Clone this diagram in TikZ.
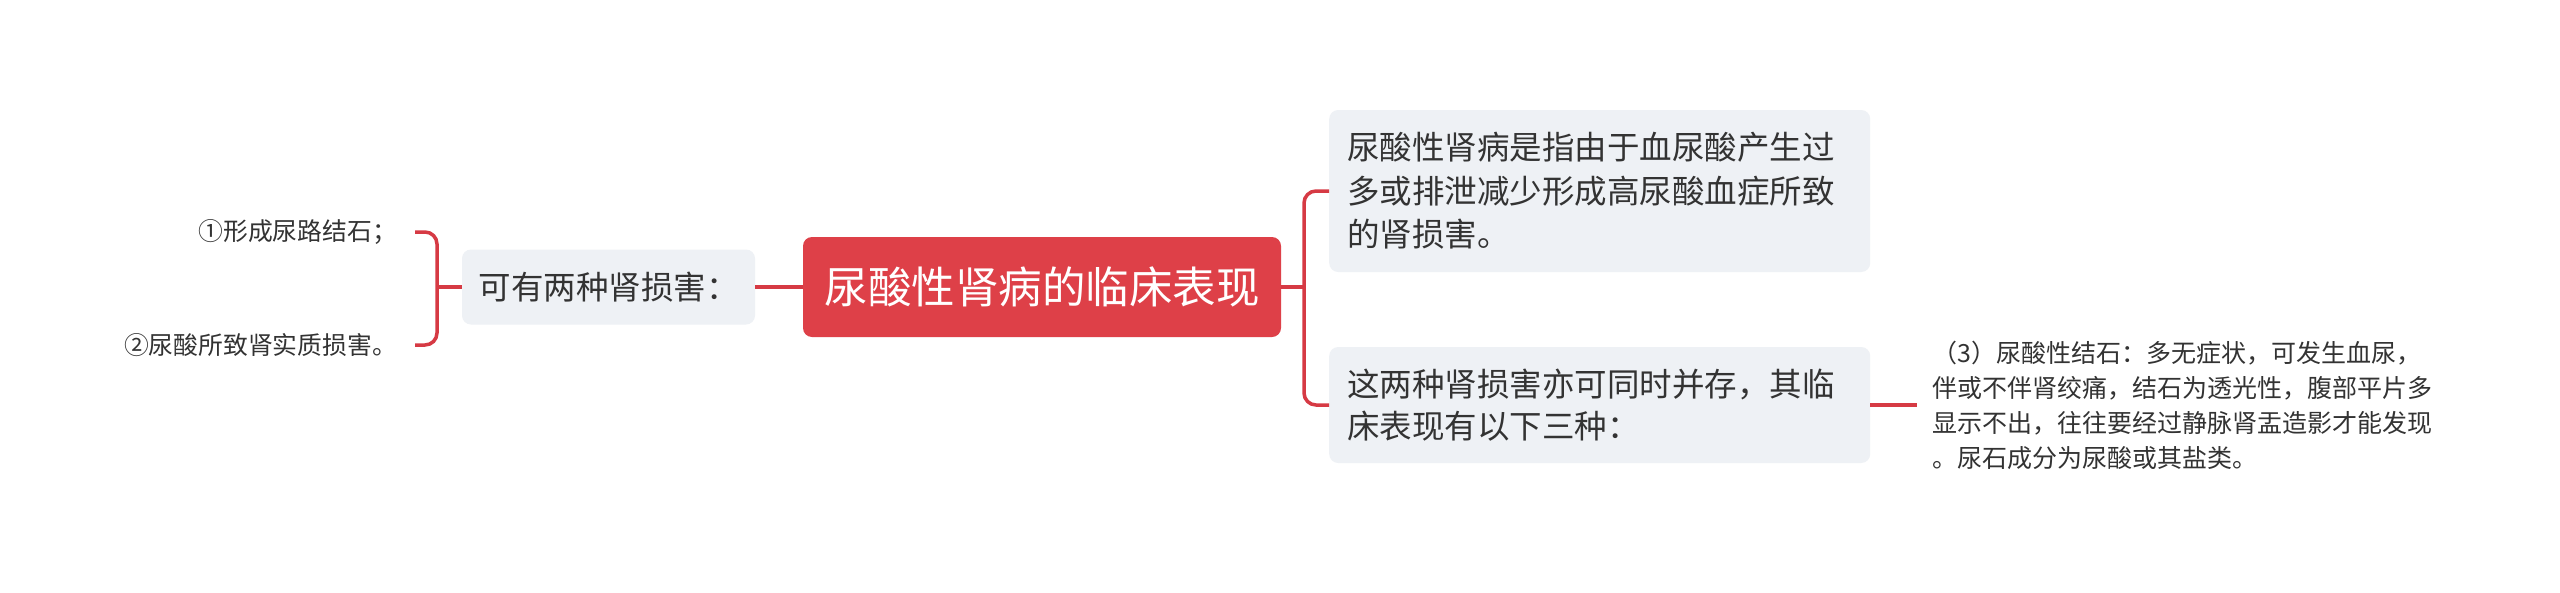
\documentclass[tikz,border=0pt]{standalone}
\usepackage{fontspec}
\setmainfont{Noto Sans CJK SC}
\definecolor{rootred}{HTML}{DE4048}
\definecolor{linered}{HTML}{D63A44}
\definecolor{boxgray}{HTML}{EEF1F5}
\definecolor{textdark}{HTML}{333333}
\tikzset{
  conn/.style={draw=linered, line width=3.5pt},
  rootbox/.style={fill=rootred, rounded corners=9pt, text=white, inner sep=0pt,
    font=\fontsize{43.5}{50}\selectfont},
  topicbox/.style={fill=boxgray, rounded corners=9pt, text=textdark},
  leaftext/.style={text=textdark, inner sep=0pt, font=\fontsize{24.8}{30}\selectfont},
}
\begin{document}
\begin{tikzpicture}[x=1pt,y=-1pt]
\useasboundingbox[fill=white] (0,0) rectangle (2560,592);

\node[rootbox, minimum width=478pt, minimum height=100pt] (root) at (1042,287) {尿酸性肾病的临床表现};

\node[topicbox, minimum width=293pt, minimum height=75pt, inner sep=0pt,
  font=\fontsize{32.5}{40}\selectfont] (L) at (608.5,287) {可有两种肾损害：};

\node[topicbox, anchor=west, text width=505pt, inner xsep=18pt, inner ysep=0pt,
  minimum height=162pt, align=left, font=\fontsize{32.5}{43.5}\selectfont] (B1) at (1329,191)
  {尿酸性肾病是指由于血尿酸产生过\\多或排泄减少形成高尿酸血症所致\\的肾损害。};

\node[topicbox, anchor=west, text width=505pt, inner xsep=18pt, inner ysep=0pt,
  minimum height=116pt, align=left, font=\fontsize{32.5}{42}\selectfont] (B2) at (1329,405)
  {这两种肾损害亦可同时并存，其临\\床表现有以下三种：};

\node[anchor=west, text width=530pt, inner xsep=15pt, inner ysep=0pt, align=left,
  text=textdark, font=\fontsize{25}{35}\selectfont] (C) at (1917,405)
  {（3）尿酸性结石：多无症状，可发生血尿，\\伴或不伴肾绞痛，结石为透光性，腹部平片多\\显示不出，往往要经过静脉肾盂造影才能发现\\。尿石成分为尿酸或其盐类。};

\node[leaftext, anchor=east] (a1) at (397,232) {①形成尿路结石；};
\node[leaftext, anchor=east] (a2) at (397,345) {②尿酸所致肾实质损害。};

\coordinate (lbr) at (437,287);
\coordinate (rbr) at (1304,287);

\draw[conn] (root.west) -- (L.east);
\draw[conn] (L.west) -- (lbr);
\draw[conn, rounded corners=12pt] ([xshift=18pt]a1.east) -| (lbr) |- ([xshift=18pt]a2.east);
\draw[conn] (root.east) -- (rbr);
\draw[conn, rounded corners=12pt] (B1.west) -| (rbr) |- (B2.west);
\draw[conn] (B2.east) -- (C.west);
\end{tikzpicture}
\end{document}
